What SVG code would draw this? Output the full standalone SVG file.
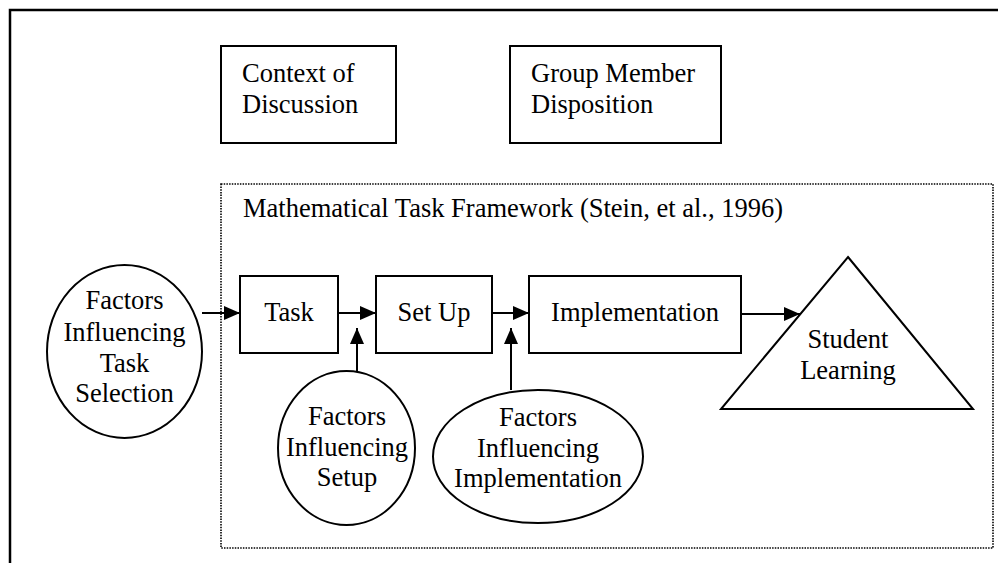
<svg xmlns="http://www.w3.org/2000/svg" width="998" height="563" viewBox="0 0 998 563">
<style>
.t{font-family:"Liberation Serif","Times New Roman",serif;font-size:26.5px;fill:#000}
.m{text-anchor:middle}
.s{fill:#fff;stroke:#000;stroke-width:2}
.c{stroke:#000;stroke-width:2;fill:none}
</style>
<defs>
<marker id="ah" markerUnits="userSpaceOnUse" markerWidth="17" markerHeight="15" refX="16" refY="7" orient="auto">
<path d="M0,0 L16,7 L0,14 Z" fill="#000"/>
</marker>
</defs>
<rect width="998" height="563" fill="#fff"/>
<g id="frame">
<path d="M10,563 L10,10 L998,10" fill="none" stroke="#000" stroke-width="2.5"/>
</g>
<g id="context">
<rect class="s" x="221" y="46" width="175" height="97"/>
<text class="t" x="242" y="82">Context of</text>
<text class="t" x="242" y="113">Discussion</text>
</g>
<g id="group-member">
<rect class="s" x="510" y="46" width="211" height="97"/>
<text class="t" x="531" y="82">Group Member</text>
<text class="t" x="531" y="113">Disposition</text>
</g>
<g id="framework">
<rect x="221" y="184" width="772" height="364" fill="none" stroke="#000" stroke-width="1.6" stroke-dasharray="1.5 1.2"/>
<text class="t" x="243" y="217">Mathematical Task Framework (Stein, et al., 1996)</text>
</g>
<g id="factors-task">
<ellipse class="s" cx="124.5" cy="351.5" rx="77.5" ry="86.5"/>
<text class="t m" x="124.5" y="309">Factors</text>
<text class="t m" x="124.5" y="341">Influencing</text>
<text class="t m" x="124.5" y="372">Task</text>
<text class="t m" x="124.5" y="402">Selection</text>
</g>
<g id="task">
<rect class="s" x="240" y="276" width="98" height="77"/>
<text class="t m" x="289" y="321">Task</text>
</g>
<g id="setup">
<rect class="s" x="376" y="276" width="116" height="77"/>
<text class="t m" x="434" y="321">Set Up</text>
</g>
<g id="implementation">
<rect class="s" x="529" y="276" width="212" height="77"/>
<text class="t m" x="635" y="321">Implementation</text>
</g>
<g id="factors-setup">
<ellipse class="s" cx="346.5" cy="448" rx="68.5" ry="77"/>
<text class="t m" x="347" y="425">Factors</text>
<text class="t m" x="347" y="456">Influencing</text>
<text class="t m" x="347" y="486">Setup</text>
</g>
<g id="factors-implementation">
<ellipse class="s" cx="538" cy="456.5" rx="105" ry="66.5"/>
<text class="t m" x="538" y="426">Factors</text>
<text class="t m" x="538" y="457">Influencing</text>
<text class="t m" x="538" y="487">Implementation</text>
</g>
<g id="student-learning">
<path class="s" d="M848,257 L973,409 L721,409 Z"/>
<text class="t m" x="848" y="348">Student</text>
<text class="t m" x="848" y="379">Learning</text>
</g>
<g id="connectors">
<line class="c" x1="202" y1="313" x2="240" y2="313" marker-end="url(#ah)"/>
<line class="c" x1="338" y1="313" x2="376" y2="313" marker-end="url(#ah)"/>
<line class="c" x1="357" y1="371" x2="357" y2="328" marker-end="url(#ah)"/>
<line class="c" x1="492" y1="313" x2="529" y2="313" marker-end="url(#ah)"/>
<line class="c" x1="511" y1="390" x2="511" y2="328" marker-end="url(#ah)"/>
<line class="c" x1="741" y1="314" x2="800" y2="314" marker-end="url(#ah)"/>
</g>
</svg>
